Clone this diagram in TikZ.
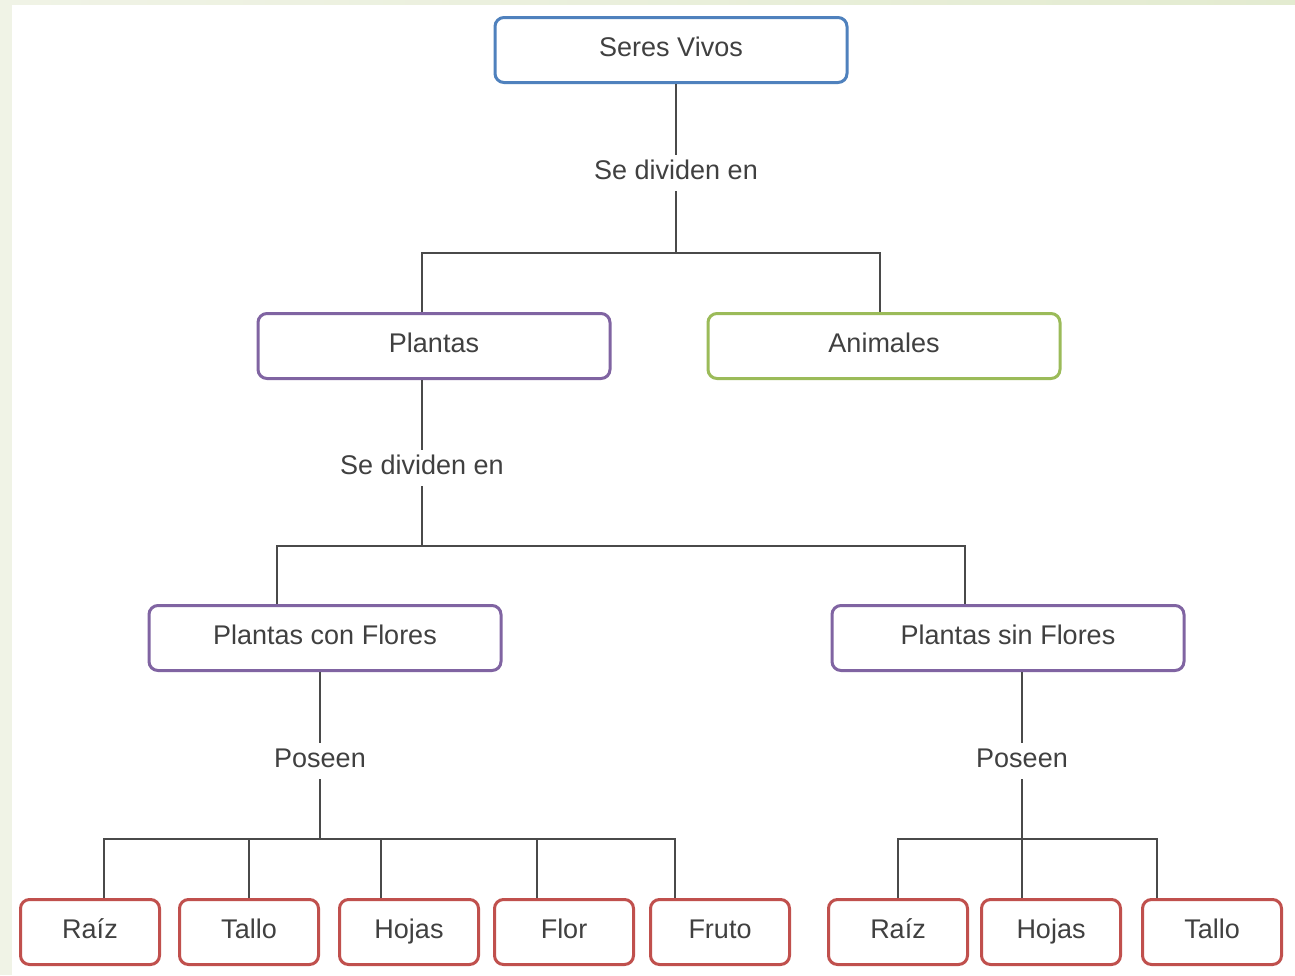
\documentclass[tikz,border=0pt]{standalone}
\usepackage{fontspec}
\setmainfont{Liberation Sans}
\definecolor{txt}{HTML}{404040}
\definecolor{lineg}{HTML}{4A4A4A}
\definecolor{cblue}{HTML}{4F81BD}
\definecolor{cpurple}{HTML}{8064A2}
\definecolor{cgreen}{HTML}{9BBB59}
\definecolor{cred}{HTML}{C0504D}
\definecolor{bgl}{HTML}{F0F3E6}
\definecolor{bgr}{HTML}{E3EBD0}
\begin{document}
\begin{tikzpicture}[x=1pt,y=-1pt,
  txtfont/.style={font=\fontsize{27}{31}\selectfont, text=txt, text height=20pt, text depth=6.5pt},
  box/.style={draw=#1, line width=3pt, rounded corners=9pt, fill=white,
    minimum height=65pt, inner sep=0pt, txtfont},
  wide/.style={box=#1, minimum width=352pt},
  small/.style={box=#1, minimum width=139pt},
  lbl/.style={txtfont, inner sep=5pt},
  conn/.style={draw=lineg, line width=2pt}]

% page and light frame
\fill[bgl] (0,0) rectangle (1295,975);
\shade[left color=bgl, right color=bgr] (0,0) rectangle (1295,5);
\fill[white] (12,5) rectangle (1295,975);

% top levels
\node[wide=cblue] (sv) at (671,50) {Seres Vivos};
\node[lbl] (l1) at (676,173) {Se dividen en};
\coordinate (j1) at (676,253);
\node[wide=cpurple] (pl) at (434,346) {Plantas};
\node[wide=cgreen] (an) at (884,346) {Animales};

\node[lbl] (l2) at (422,468) {Se dividen en};
\coordinate (j2) at (422,546);
\node[wide=cpurple] (pcf) at (325,638) {Plantas con Flores};
\node[wide=cpurple] (psf) at (1008,638) {Plantas sin Flores};

\node[lbl] (l3) at (320,761) {Poseen};
\coordinate (j3) at (320,839);
\node[lbl] (l4) at (1022,761) {Poseen};
\coordinate (j4) at (1022,839);

% leaves
\node[small=cred] (r1) at (90,932) {Raíz};
\node[small=cred] (t1) at (249,932) {Tallo};
\node[small=cred] (h1) at (409,932) {Hojas};
\node[small=cred] (f1) at (564,932) {Flor};
\node[small=cred] (fr1) at (720,932) {Fruto};
\node[small=cred] (r2) at (898,932) {Raíz};
\node[small=cred] (h2) at (1051,932) {Hojas};
\node[small=cred] (t2) at (1212,932) {Tallo};

% connectors
\draw[conn] (sv.south -| l1) -- (l1.north);
\draw[conn] (l1.south) -- (j1);
\draw[conn] (pl.north -| l2) |- (j1) -| ([xshift=-4pt]an.north);

\draw[conn] (pl.south -| l2) -- (l2.north);
\draw[conn] (l2.south) -- (j2);
\draw[conn] ([xshift=-48pt]pcf.north) |- (j2) -| ([xshift=-43pt]psf.north);

\draw[conn] (pcf.south -| l3) -- (l3.north);
\draw[conn] (l3.south) -- (j3);
\draw[conn] ([xshift=14pt]r1.north) |- (j3) -| ([xshift=-45pt]fr1.north);
\draw[conn] (t1.north) -- (t1.north |- j3);
\draw[conn] ([xshift=-28pt]h1.north) -- ([xshift=-28pt]h1.north |- j3);
\draw[conn] ([xshift=-27pt]f1.north) -- ([xshift=-27pt]f1.north |- j3);

\draw[conn] (psf.south -| l4) -- (l4.north);
\draw[conn] (l4.south) -- ([xshift=-29pt]h2.north);
\draw[conn] (r2.north) |- (j4) -| ([xshift=-55pt]t2.north);
\end{tikzpicture}
\end{document}
